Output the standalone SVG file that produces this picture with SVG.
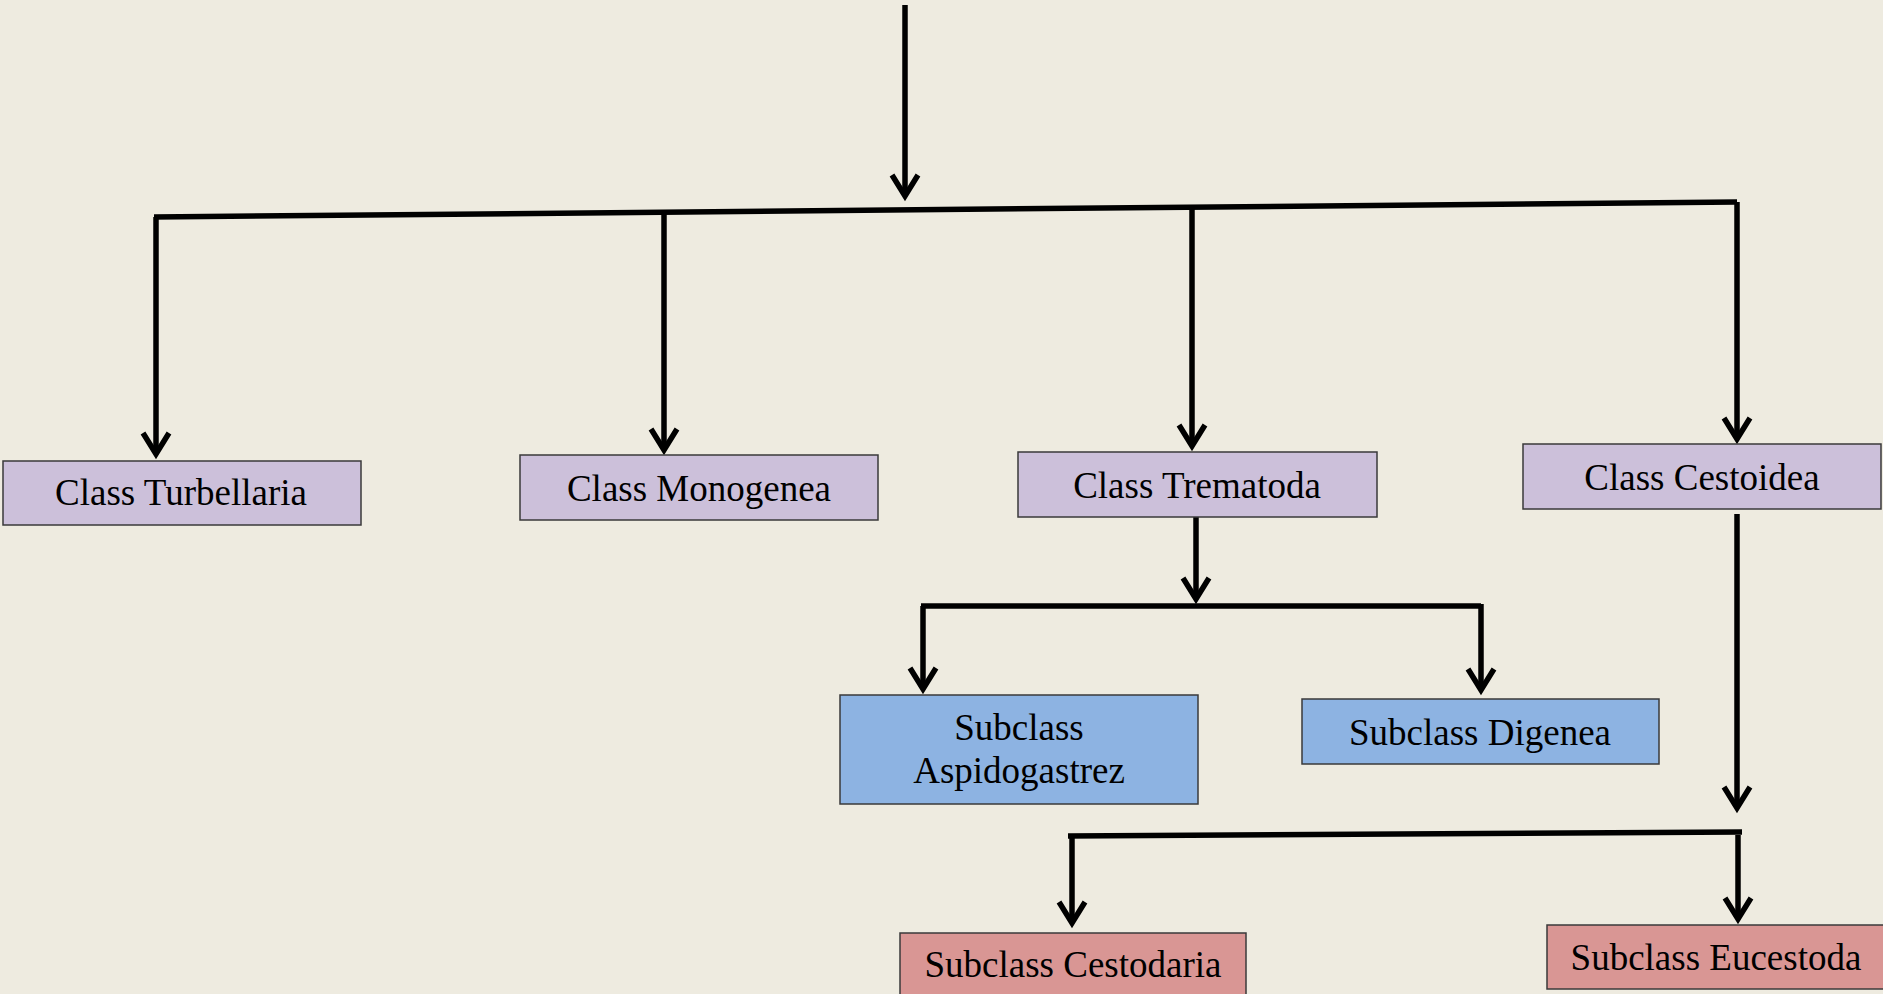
<svg xmlns="http://www.w3.org/2000/svg" width="1883" height="994" viewBox="0 0 1883 994">
<defs>
<style>
.bg{fill:#EEEBE0}
.box{stroke:#3a3a3a;stroke-width:1.5}
.cls{fill:#CCC0DA}
.sub1{fill:#8DB3E2}
.sub2{fill:#D99694}
.t{font-family:"Liberation Serif","Times New Roman",serif;font-size:37px;fill:#000;text-anchor:middle}
.c{fill:none;stroke:#000;stroke-width:5.5}
.a{marker-end:url(#chev)}
</style>
<marker id="chev" markerUnits="userSpaceOnUse" orient="auto" refX="0" refY="0" markerWidth="40" markerHeight="40" viewBox="-30 -20 40 40" overflow="visible">
<path d="M -21 -13 L 0 0 L -21 13" fill="none" stroke="#000" stroke-width="5.5" stroke-linejoin="miter"/>
</marker>
</defs>
<rect class="bg" x="0" y="0" width="1883" height="994"/>
<g id="connectors">
<path class="c a" d="M 905 5 L 905 196"/>
<path class="c" d="M 154 217 L 1737 202"/>
<path class="c a" d="M 156 217 L 156 454"/>
<path class="c a" d="M 664 213 L 664 450"/>
<path class="c a" d="M 1192 208 L 1192 446"/>
<path class="c a" d="M 1737 202 L 1737 439"/>
<path class="c a" d="M 1196 517 L 1196 599"/>
<path class="c" d="M 921 606 L 1481 606"/>
<path class="c a" d="M 923 606 L 923 689"/>
<path class="c a" d="M 1481 604 L 1481 690"/>
<path class="c a" d="M 1737 514 L 1737 808"/>
<path class="c" d="M 1068 836 L 1742 832"/>
<path class="c a" d="M 1072 836 L 1072 923"/>
<path class="c a" d="M 1738 835 L 1738 919"/>
</g>
<g id="turbellaria">
<rect class="box cls" x="3" y="461" width="358" height="64"/>
<text class="t" x="181" y="505">Class Turbellaria</text>
</g>
<g id="monogenea">
<rect class="box cls" x="520" y="455" width="358" height="65"/>
<text class="t" x="699" y="501">Class Monogenea</text>
</g>
<g id="trematoda">
<rect class="box cls" x="1018" y="452" width="359" height="65"/>
<text class="t" x="1197" y="498">Class Trematoda</text>
</g>
<g id="cestoidea">
<rect class="box cls" x="1523" y="444" width="358" height="65"/>
<text class="t" x="1702" y="490">Class Cestoidea</text>
</g>
<g id="aspidogastrez">
<rect class="box sub1" x="840" y="695" width="358" height="109"/>
<text class="t" x="1019" y="740">Subclass</text>
<text class="t" x="1019" y="783">Aspidogastrez</text>
</g>
<g id="digenea">
<rect class="box sub1" x="1302" y="699" width="357" height="65"/>
<text class="t" x="1480" y="745">Subclass Digenea</text>
</g>
<g id="cestodaria">
<rect class="box sub2" x="900" y="933" width="346" height="70"/>
<text class="t" x="1073" y="977">Subclass Cestodaria</text>
</g>
<g id="eucestoda">
<rect class="box sub2" x="1547" y="925" width="345" height="64"/>
<text class="t" x="1716" y="970">Subclass Eucestoda</text>
</g>
</svg>
